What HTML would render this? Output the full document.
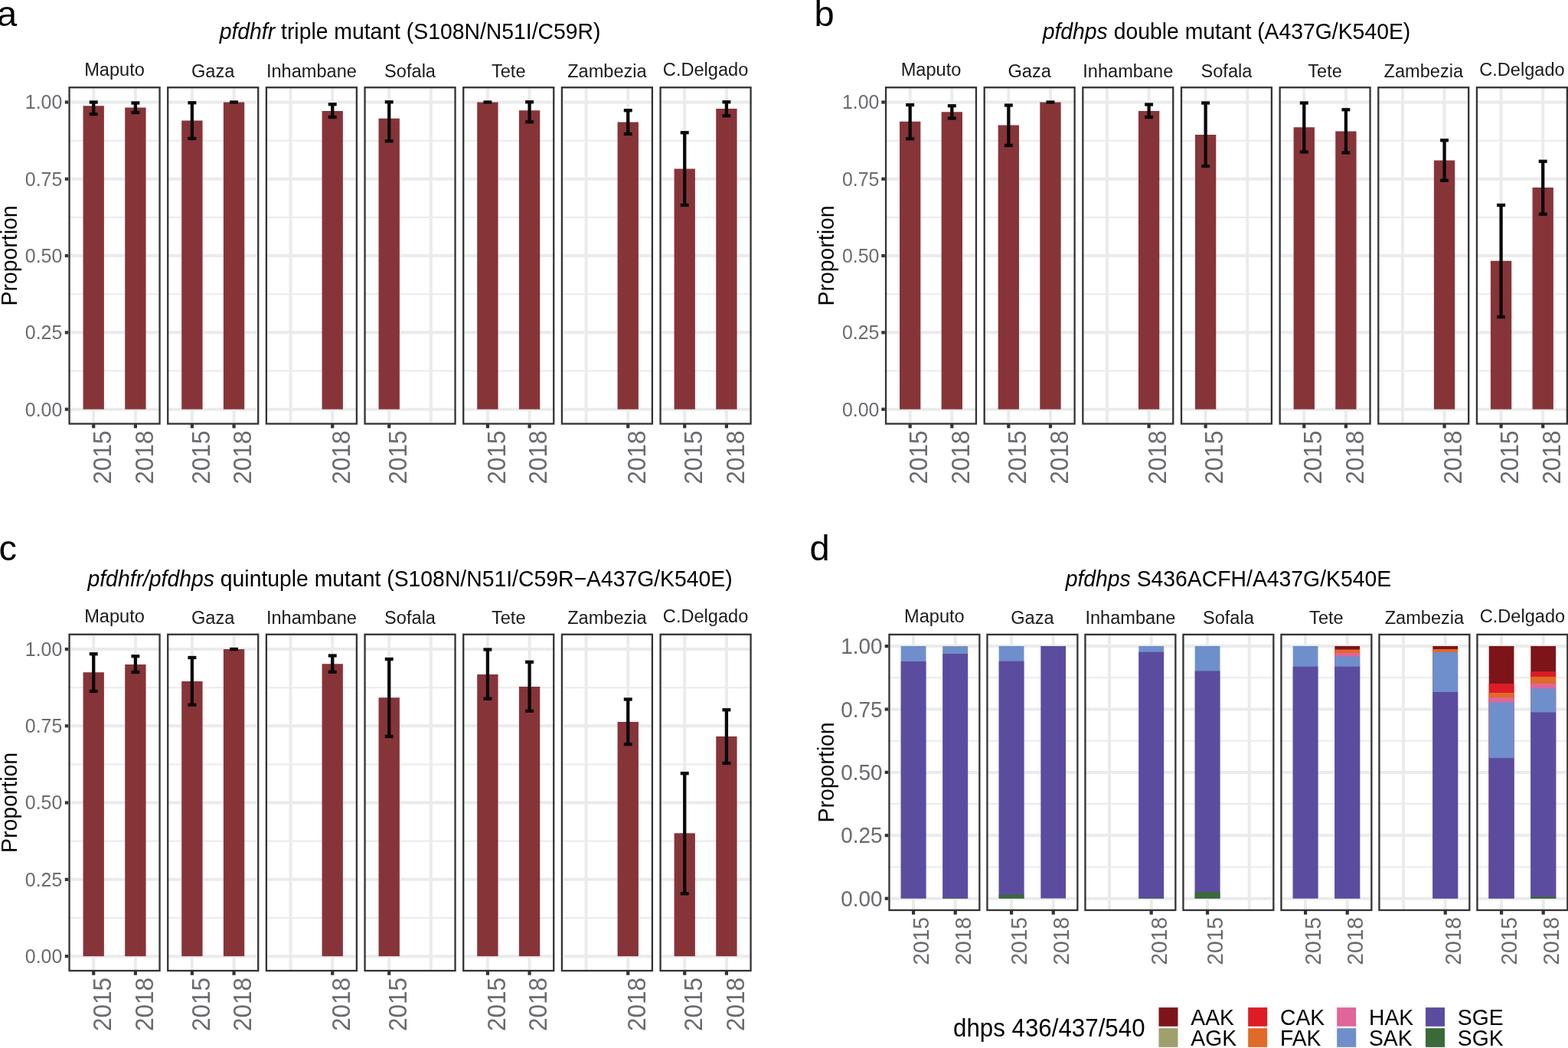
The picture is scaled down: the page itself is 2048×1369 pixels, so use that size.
<!DOCTYPE html>
<html lang="en">
<head>
<meta charset="utf-8">
<title>pfdhfr / pfdhps mutant proportions by province</title>
<style>
html, body { margin: 0; padding: 0; background: #ffffff; }
body { width: 2048px; height: 1369px; overflow: hidden; }
svg { display: block; font-family: "Liberation Sans", sans-serif; }
svg text { font-family: "Liberation Sans", sans-serif; }
</style>
</head>
<body>
<svg width="2048" height="1369" viewBox="0 0 2048 1369">
<rect x="0" y="0" width="2048" height="1369" fill="#ffffff"/>
<g class="panel" id="panel-a">
<text transform="translate(-3.9 34)" font-size="47" fill="#000" text-anchor="start">a</text>
<text transform="translate(535.56 51.3) scale(1 1.035)" font-size="28.35" fill="#000" text-anchor="middle"><tspan font-style="italic">pfdhfr</tspan> triple mutant (S108N/N51I/C59R)</text>
<text transform="translate(22.4 333.9) rotate(-90) scale(1 1.035)" font-size="28.4" fill="#000" text-anchor="middle">Proportion</text>
<text transform="translate(81.3 543.55) scale(1 1.035)" font-size="24.9" fill="#696b6f" text-anchor="end">0.00</text>
<line x1="84.8" y1="534.65" x2="89.9" y2="534.65" stroke="#333333" stroke-width="4.2"/>
<text transform="translate(81.3 443.26) scale(1 1.035)" font-size="24.9" fill="#696b6f" text-anchor="end">0.25</text>
<line x1="84.8" y1="434.36" x2="89.9" y2="434.36" stroke="#333333" stroke-width="4.2"/>
<text transform="translate(81.3 342.97) scale(1 1.035)" font-size="24.9" fill="#696b6f" text-anchor="end">0.50</text>
<line x1="84.8" y1="334.07" x2="89.9" y2="334.07" stroke="#333333" stroke-width="4.2"/>
<text transform="translate(81.3 242.69) scale(1 1.035)" font-size="24.9" fill="#696b6f" text-anchor="end">0.75</text>
<line x1="84.8" y1="233.79" x2="89.9" y2="233.79" stroke="#333333" stroke-width="4.2"/>
<text transform="translate(81.3 142.4) scale(1 1.035)" font-size="24.9" fill="#696b6f" text-anchor="end">1.00</text>
<line x1="84.8" y1="133.5" x2="89.9" y2="133.5" stroke="#333333" stroke-width="4.2"/>
<g class="facet">
<text transform="translate(149.55 98.75) scale(1 1.035)" font-size="23.6" fill="#1a1a1a" text-anchor="middle">Maputo</text>
<rect x="89.4" y="113.1" width="120.3" height="441.6" fill="#ffffff"/>
<line x1="89.4" y1="484.51" x2="209.7" y2="484.51" stroke="#eaebeb" stroke-width="2"/>
<line x1="89.4" y1="384.22" x2="209.7" y2="384.22" stroke="#eaebeb" stroke-width="2"/>
<line x1="89.4" y1="283.93" x2="209.7" y2="283.93" stroke="#eaebeb" stroke-width="2"/>
<line x1="89.4" y1="183.64" x2="209.7" y2="183.64" stroke="#eaebeb" stroke-width="2"/>
<line x1="89.4" y1="534.65" x2="209.7" y2="534.65" stroke="#eaebeb" stroke-width="4"/>
<line x1="89.4" y1="434.36" x2="209.7" y2="434.36" stroke="#eaebeb" stroke-width="4"/>
<line x1="89.4" y1="334.07" x2="209.7" y2="334.07" stroke="#eaebeb" stroke-width="4"/>
<line x1="89.4" y1="233.79" x2="209.7" y2="233.79" stroke="#eaebeb" stroke-width="4"/>
<line x1="89.4" y1="133.5" x2="209.7" y2="133.5" stroke="#eaebeb" stroke-width="4"/>
<line x1="122.21" y1="113.1" x2="122.21" y2="554.7" stroke="#eaebeb" stroke-width="4"/>
<line x1="176.89" y1="113.1" x2="176.89" y2="554.7" stroke="#eaebeb" stroke-width="4"/>
<rect x="108.54" y="138.25" width="27.34" height="396.4" fill="#873439"/>
<line x1="122.21" y1="133.5" x2="122.21" y2="149.1" stroke="#0a0a0a" stroke-width="4.3"/>
<line x1="116.74" y1="149.1" x2="127.68" y2="149.1" stroke="#0a0a0a" stroke-width="4.3"/>
<line x1="116.74" y1="133.5" x2="127.68" y2="133.5" stroke="#0a0a0a" stroke-width="4.3"/>
<rect x="163.22" y="140.5" width="27.34" height="394.15" fill="#873439"/>
<line x1="176.89" y1="134.5" x2="176.89" y2="147" stroke="#0a0a0a" stroke-width="4.3"/>
<line x1="171.42" y1="147" x2="182.36" y2="147" stroke="#0a0a0a" stroke-width="4.3"/>
<line x1="171.42" y1="134.5" x2="182.36" y2="134.5" stroke="#0a0a0a" stroke-width="4.3"/>
<rect x="90.55" y="114.25" width="118" height="439.3" fill="none" stroke="#333333" stroke-width="2.3"/>
<line x1="122.21" y1="554.2" x2="122.21" y2="559.3" stroke="#333333" stroke-width="4.2"/>
<text transform="translate(144.96 562.5) rotate(-90) scale(1 1.035)" font-size="31.5" fill="#696b6f" text-anchor="end">2015</text>
<line x1="176.89" y1="554.2" x2="176.89" y2="559.3" stroke="#333333" stroke-width="4.2"/>
<text transform="translate(199.64 562.5) rotate(-90) scale(1 1.035)" font-size="31.5" fill="#696b6f" text-anchor="end">2018</text>
</g>
<g class="facet">
<text transform="translate(278.22 100.75) scale(1 1.035)" font-size="23.6" fill="#1a1a1a" text-anchor="middle">Gaza</text>
<rect x="218.07" y="113.1" width="120.3" height="441.6" fill="#ffffff"/>
<line x1="218.07" y1="484.51" x2="338.37" y2="484.51" stroke="#eaebeb" stroke-width="2"/>
<line x1="218.07" y1="384.22" x2="338.37" y2="384.22" stroke="#eaebeb" stroke-width="2"/>
<line x1="218.07" y1="283.93" x2="338.37" y2="283.93" stroke="#eaebeb" stroke-width="2"/>
<line x1="218.07" y1="183.64" x2="338.37" y2="183.64" stroke="#eaebeb" stroke-width="2"/>
<line x1="218.07" y1="534.65" x2="338.37" y2="534.65" stroke="#eaebeb" stroke-width="4"/>
<line x1="218.07" y1="434.36" x2="338.37" y2="434.36" stroke="#eaebeb" stroke-width="4"/>
<line x1="218.07" y1="334.07" x2="338.37" y2="334.07" stroke="#eaebeb" stroke-width="4"/>
<line x1="218.07" y1="233.79" x2="338.37" y2="233.79" stroke="#eaebeb" stroke-width="4"/>
<line x1="218.07" y1="133.5" x2="338.37" y2="133.5" stroke="#eaebeb" stroke-width="4"/>
<line x1="250.88" y1="113.1" x2="250.88" y2="554.7" stroke="#eaebeb" stroke-width="4"/>
<line x1="305.56" y1="113.1" x2="305.56" y2="554.7" stroke="#eaebeb" stroke-width="4"/>
<rect x="237.21" y="157.5" width="27.34" height="377.15" fill="#873439"/>
<line x1="250.88" y1="134.25" x2="250.88" y2="181" stroke="#0a0a0a" stroke-width="4.3"/>
<line x1="245.41" y1="181" x2="256.35" y2="181" stroke="#0a0a0a" stroke-width="4.3"/>
<line x1="245.41" y1="134.25" x2="256.35" y2="134.25" stroke="#0a0a0a" stroke-width="4.3"/>
<rect x="291.89" y="133.5" width="27.34" height="401.15" fill="#873439"/>
<line x1="300.09" y1="133.5" x2="311.03" y2="133.5" stroke="#0a0a0a" stroke-width="4.3"/>
<rect x="219.22" y="114.25" width="118" height="439.3" fill="none" stroke="#333333" stroke-width="2.3"/>
<line x1="250.88" y1="554.2" x2="250.88" y2="559.3" stroke="#333333" stroke-width="4.2"/>
<text transform="translate(273.63 562.5) rotate(-90) scale(1 1.035)" font-size="31.5" fill="#696b6f" text-anchor="end">2015</text>
<line x1="305.56" y1="554.2" x2="305.56" y2="559.3" stroke="#333333" stroke-width="4.2"/>
<text transform="translate(328.31 562.5) rotate(-90) scale(1 1.035)" font-size="31.5" fill="#696b6f" text-anchor="end">2018</text>
</g>
<g class="facet">
<text transform="translate(406.89 100.75) scale(1 1.035)" font-size="23.6" fill="#1a1a1a" text-anchor="middle">Inhambane</text>
<rect x="346.74" y="113.1" width="120.3" height="441.6" fill="#ffffff"/>
<line x1="346.74" y1="484.51" x2="467.04" y2="484.51" stroke="#eaebeb" stroke-width="2"/>
<line x1="346.74" y1="384.22" x2="467.04" y2="384.22" stroke="#eaebeb" stroke-width="2"/>
<line x1="346.74" y1="283.93" x2="467.04" y2="283.93" stroke="#eaebeb" stroke-width="2"/>
<line x1="346.74" y1="183.64" x2="467.04" y2="183.64" stroke="#eaebeb" stroke-width="2"/>
<line x1="346.74" y1="534.65" x2="467.04" y2="534.65" stroke="#eaebeb" stroke-width="4"/>
<line x1="346.74" y1="434.36" x2="467.04" y2="434.36" stroke="#eaebeb" stroke-width="4"/>
<line x1="346.74" y1="334.07" x2="467.04" y2="334.07" stroke="#eaebeb" stroke-width="4"/>
<line x1="346.74" y1="233.79" x2="467.04" y2="233.79" stroke="#eaebeb" stroke-width="4"/>
<line x1="346.74" y1="133.5" x2="467.04" y2="133.5" stroke="#eaebeb" stroke-width="4"/>
<line x1="379.55" y1="113.1" x2="379.55" y2="554.7" stroke="#eaebeb" stroke-width="4"/>
<line x1="434.23" y1="113.1" x2="434.23" y2="554.7" stroke="#eaebeb" stroke-width="4"/>
<rect x="420.56" y="145" width="27.34" height="389.65" fill="#873439"/>
<line x1="434.23" y1="136.25" x2="434.23" y2="153" stroke="#0a0a0a" stroke-width="4.3"/>
<line x1="428.76" y1="153" x2="439.7" y2="153" stroke="#0a0a0a" stroke-width="4.3"/>
<line x1="428.76" y1="136.25" x2="439.7" y2="136.25" stroke="#0a0a0a" stroke-width="4.3"/>
<rect x="347.89" y="114.25" width="118" height="439.3" fill="none" stroke="#333333" stroke-width="2.3"/>
<line x1="434.23" y1="554.2" x2="434.23" y2="559.3" stroke="#333333" stroke-width="4.2"/>
<text transform="translate(456.98 562.5) rotate(-90) scale(1 1.035)" font-size="31.5" fill="#696b6f" text-anchor="end">2018</text>
</g>
<g class="facet">
<text transform="translate(535.56 100.75) scale(1 1.035)" font-size="23.6" fill="#1a1a1a" text-anchor="middle">Sofala</text>
<rect x="475.41" y="113.1" width="120.3" height="441.6" fill="#ffffff"/>
<line x1="475.41" y1="484.51" x2="595.71" y2="484.51" stroke="#eaebeb" stroke-width="2"/>
<line x1="475.41" y1="384.22" x2="595.71" y2="384.22" stroke="#eaebeb" stroke-width="2"/>
<line x1="475.41" y1="283.93" x2="595.71" y2="283.93" stroke="#eaebeb" stroke-width="2"/>
<line x1="475.41" y1="183.64" x2="595.71" y2="183.64" stroke="#eaebeb" stroke-width="2"/>
<line x1="475.41" y1="534.65" x2="595.71" y2="534.65" stroke="#eaebeb" stroke-width="4"/>
<line x1="475.41" y1="434.36" x2="595.71" y2="434.36" stroke="#eaebeb" stroke-width="4"/>
<line x1="475.41" y1="334.07" x2="595.71" y2="334.07" stroke="#eaebeb" stroke-width="4"/>
<line x1="475.41" y1="233.79" x2="595.71" y2="233.79" stroke="#eaebeb" stroke-width="4"/>
<line x1="475.41" y1="133.5" x2="595.71" y2="133.5" stroke="#eaebeb" stroke-width="4"/>
<line x1="508.22" y1="113.1" x2="508.22" y2="554.7" stroke="#eaebeb" stroke-width="4"/>
<line x1="562.9" y1="113.1" x2="562.9" y2="554.7" stroke="#eaebeb" stroke-width="4"/>
<rect x="494.55" y="154.75" width="27.34" height="379.9" fill="#873439"/>
<line x1="508.22" y1="133.25" x2="508.22" y2="184.25" stroke="#0a0a0a" stroke-width="4.3"/>
<line x1="502.75" y1="184.25" x2="513.69" y2="184.25" stroke="#0a0a0a" stroke-width="4.3"/>
<line x1="502.75" y1="133.25" x2="513.69" y2="133.25" stroke="#0a0a0a" stroke-width="4.3"/>
<rect x="476.56" y="114.25" width="118" height="439.3" fill="none" stroke="#333333" stroke-width="2.3"/>
<line x1="508.22" y1="554.2" x2="508.22" y2="559.3" stroke="#333333" stroke-width="4.2"/>
<text transform="translate(530.97 562.5) rotate(-90) scale(1 1.035)" font-size="31.5" fill="#696b6f" text-anchor="end">2015</text>
</g>
<g class="facet">
<text transform="translate(664.23 100.75) scale(1 1.035)" font-size="23.6" fill="#1a1a1a" text-anchor="middle">Tete</text>
<rect x="604.08" y="113.1" width="120.3" height="441.6" fill="#ffffff"/>
<line x1="604.08" y1="484.51" x2="724.38" y2="484.51" stroke="#eaebeb" stroke-width="2"/>
<line x1="604.08" y1="384.22" x2="724.38" y2="384.22" stroke="#eaebeb" stroke-width="2"/>
<line x1="604.08" y1="283.93" x2="724.38" y2="283.93" stroke="#eaebeb" stroke-width="2"/>
<line x1="604.08" y1="183.64" x2="724.38" y2="183.64" stroke="#eaebeb" stroke-width="2"/>
<line x1="604.08" y1="534.65" x2="724.38" y2="534.65" stroke="#eaebeb" stroke-width="4"/>
<line x1="604.08" y1="434.36" x2="724.38" y2="434.36" stroke="#eaebeb" stroke-width="4"/>
<line x1="604.08" y1="334.07" x2="724.38" y2="334.07" stroke="#eaebeb" stroke-width="4"/>
<line x1="604.08" y1="233.79" x2="724.38" y2="233.79" stroke="#eaebeb" stroke-width="4"/>
<line x1="604.08" y1="133.5" x2="724.38" y2="133.5" stroke="#eaebeb" stroke-width="4"/>
<line x1="636.89" y1="113.1" x2="636.89" y2="554.7" stroke="#eaebeb" stroke-width="4"/>
<line x1="691.57" y1="113.1" x2="691.57" y2="554.7" stroke="#eaebeb" stroke-width="4"/>
<rect x="623.22" y="133.5" width="27.34" height="401.15" fill="#873439"/>
<line x1="631.42" y1="133.5" x2="642.36" y2="133.5" stroke="#0a0a0a" stroke-width="4.3"/>
<rect x="677.9" y="144.25" width="27.34" height="390.4" fill="#873439"/>
<line x1="691.57" y1="133.25" x2="691.57" y2="159.25" stroke="#0a0a0a" stroke-width="4.3"/>
<line x1="686.1" y1="159.25" x2="697.04" y2="159.25" stroke="#0a0a0a" stroke-width="4.3"/>
<line x1="686.1" y1="133.25" x2="697.04" y2="133.25" stroke="#0a0a0a" stroke-width="4.3"/>
<rect x="605.23" y="114.25" width="118" height="439.3" fill="none" stroke="#333333" stroke-width="2.3"/>
<line x1="636.89" y1="554.2" x2="636.89" y2="559.3" stroke="#333333" stroke-width="4.2"/>
<text transform="translate(659.64 562.5) rotate(-90) scale(1 1.035)" font-size="31.5" fill="#696b6f" text-anchor="end">2015</text>
<line x1="691.57" y1="554.2" x2="691.57" y2="559.3" stroke="#333333" stroke-width="4.2"/>
<text transform="translate(714.32 562.5) rotate(-90) scale(1 1.035)" font-size="31.5" fill="#696b6f" text-anchor="end">2018</text>
</g>
<g class="facet">
<text transform="translate(792.9 100.75) scale(1 1.035)" font-size="23.6" fill="#1a1a1a" text-anchor="middle">Zambezia</text>
<rect x="732.75" y="113.1" width="120.3" height="441.6" fill="#ffffff"/>
<line x1="732.75" y1="484.51" x2="853.05" y2="484.51" stroke="#eaebeb" stroke-width="2"/>
<line x1="732.75" y1="384.22" x2="853.05" y2="384.22" stroke="#eaebeb" stroke-width="2"/>
<line x1="732.75" y1="283.93" x2="853.05" y2="283.93" stroke="#eaebeb" stroke-width="2"/>
<line x1="732.75" y1="183.64" x2="853.05" y2="183.64" stroke="#eaebeb" stroke-width="2"/>
<line x1="732.75" y1="534.65" x2="853.05" y2="534.65" stroke="#eaebeb" stroke-width="4"/>
<line x1="732.75" y1="434.36" x2="853.05" y2="434.36" stroke="#eaebeb" stroke-width="4"/>
<line x1="732.75" y1="334.07" x2="853.05" y2="334.07" stroke="#eaebeb" stroke-width="4"/>
<line x1="732.75" y1="233.79" x2="853.05" y2="233.79" stroke="#eaebeb" stroke-width="4"/>
<line x1="732.75" y1="133.5" x2="853.05" y2="133.5" stroke="#eaebeb" stroke-width="4"/>
<line x1="765.56" y1="113.1" x2="765.56" y2="554.7" stroke="#eaebeb" stroke-width="4"/>
<line x1="820.24" y1="113.1" x2="820.24" y2="554.7" stroke="#eaebeb" stroke-width="4"/>
<rect x="806.57" y="159.5" width="27.34" height="375.15" fill="#873439"/>
<line x1="820.24" y1="144.25" x2="820.24" y2="175" stroke="#0a0a0a" stroke-width="4.3"/>
<line x1="814.77" y1="175" x2="825.71" y2="175" stroke="#0a0a0a" stroke-width="4.3"/>
<line x1="814.77" y1="144.25" x2="825.71" y2="144.25" stroke="#0a0a0a" stroke-width="4.3"/>
<rect x="733.9" y="114.25" width="118" height="439.3" fill="none" stroke="#333333" stroke-width="2.3"/>
<line x1="820.24" y1="554.2" x2="820.24" y2="559.3" stroke="#333333" stroke-width="4.2"/>
<text transform="translate(842.99 562.5) rotate(-90) scale(1 1.035)" font-size="31.5" fill="#696b6f" text-anchor="end">2018</text>
</g>
<g class="facet">
<text transform="translate(921.57 98.75) scale(1 1.035)" font-size="23.6" fill="#1a1a1a" text-anchor="middle">C.Delgado</text>
<rect x="861.42" y="113.1" width="120.3" height="441.6" fill="#ffffff"/>
<line x1="861.42" y1="484.51" x2="981.72" y2="484.51" stroke="#eaebeb" stroke-width="2"/>
<line x1="861.42" y1="384.22" x2="981.72" y2="384.22" stroke="#eaebeb" stroke-width="2"/>
<line x1="861.42" y1="283.93" x2="981.72" y2="283.93" stroke="#eaebeb" stroke-width="2"/>
<line x1="861.42" y1="183.64" x2="981.72" y2="183.64" stroke="#eaebeb" stroke-width="2"/>
<line x1="861.42" y1="534.65" x2="981.72" y2="534.65" stroke="#eaebeb" stroke-width="4"/>
<line x1="861.42" y1="434.36" x2="981.72" y2="434.36" stroke="#eaebeb" stroke-width="4"/>
<line x1="861.42" y1="334.07" x2="981.72" y2="334.07" stroke="#eaebeb" stroke-width="4"/>
<line x1="861.42" y1="233.79" x2="981.72" y2="233.79" stroke="#eaebeb" stroke-width="4"/>
<line x1="861.42" y1="133.5" x2="981.72" y2="133.5" stroke="#eaebeb" stroke-width="4"/>
<line x1="894.23" y1="113.1" x2="894.23" y2="554.7" stroke="#eaebeb" stroke-width="4"/>
<line x1="948.91" y1="113.1" x2="948.91" y2="554.7" stroke="#eaebeb" stroke-width="4"/>
<rect x="880.56" y="220.5" width="27.34" height="314.15" fill="#873439"/>
<line x1="894.23" y1="173.25" x2="894.23" y2="268" stroke="#0a0a0a" stroke-width="4.3"/>
<line x1="888.76" y1="268" x2="899.7" y2="268" stroke="#0a0a0a" stroke-width="4.3"/>
<line x1="888.76" y1="173.25" x2="899.7" y2="173.25" stroke="#0a0a0a" stroke-width="4.3"/>
<rect x="935.24" y="142" width="27.34" height="392.65" fill="#873439"/>
<line x1="948.91" y1="133.25" x2="948.91" y2="151.25" stroke="#0a0a0a" stroke-width="4.3"/>
<line x1="943.44" y1="151.25" x2="954.38" y2="151.25" stroke="#0a0a0a" stroke-width="4.3"/>
<line x1="943.44" y1="133.25" x2="954.38" y2="133.25" stroke="#0a0a0a" stroke-width="4.3"/>
<rect x="862.57" y="114.25" width="118" height="439.3" fill="none" stroke="#333333" stroke-width="2.3"/>
<line x1="894.23" y1="554.2" x2="894.23" y2="559.3" stroke="#333333" stroke-width="4.2"/>
<text transform="translate(916.98 562.5) rotate(-90) scale(1 1.035)" font-size="31.5" fill="#696b6f" text-anchor="end">2015</text>
<line x1="948.91" y1="554.2" x2="948.91" y2="559.3" stroke="#333333" stroke-width="4.2"/>
<text transform="translate(971.66 562.5) rotate(-90) scale(1 1.035)" font-size="31.5" fill="#696b6f" text-anchor="end">2018</text>
</g>
</g>
<g class="panel" id="panel-b">
<text transform="translate(1063.4 34)" font-size="47" fill="#000" text-anchor="start">b</text>
<text transform="translate(1601.95 51.3) scale(1 1.035)" font-size="28.35" fill="#000" text-anchor="middle"><tspan font-style="italic">pfdhps</tspan> double mutant (A437G/K540E)</text>
<text transform="translate(1089.1 333.9) rotate(-90) scale(1 1.035)" font-size="28.4" fill="#000" text-anchor="middle">Proportion</text>
<text transform="translate(1148.4 543.55) scale(1 1.035)" font-size="24.9" fill="#696b6f" text-anchor="end">0.00</text>
<line x1="1151.3" y1="534.65" x2="1156.4" y2="534.65" stroke="#333333" stroke-width="4.2"/>
<text transform="translate(1148.4 443.26) scale(1 1.035)" font-size="24.9" fill="#696b6f" text-anchor="end">0.25</text>
<line x1="1151.3" y1="434.36" x2="1156.4" y2="434.36" stroke="#333333" stroke-width="4.2"/>
<text transform="translate(1148.4 342.97) scale(1 1.035)" font-size="24.9" fill="#696b6f" text-anchor="end">0.50</text>
<line x1="1151.3" y1="334.07" x2="1156.4" y2="334.07" stroke="#333333" stroke-width="4.2"/>
<text transform="translate(1148.4 242.69) scale(1 1.035)" font-size="24.9" fill="#696b6f" text-anchor="end">0.75</text>
<line x1="1151.3" y1="233.79" x2="1156.4" y2="233.79" stroke="#333333" stroke-width="4.2"/>
<text transform="translate(1148.4 142.4) scale(1 1.035)" font-size="24.9" fill="#696b6f" text-anchor="end">1.00</text>
<line x1="1151.3" y1="133.5" x2="1156.4" y2="133.5" stroke="#333333" stroke-width="4.2"/>
<g class="facet">
<text transform="translate(1216 98.75) scale(1 1.035)" font-size="23.6" fill="#1a1a1a" text-anchor="middle">Maputo</text>
<rect x="1155.9" y="113.1" width="120.2" height="441.6" fill="#ffffff"/>
<line x1="1155.9" y1="484.51" x2="1276.1" y2="484.51" stroke="#eaebeb" stroke-width="2"/>
<line x1="1155.9" y1="384.22" x2="1276.1" y2="384.22" stroke="#eaebeb" stroke-width="2"/>
<line x1="1155.9" y1="283.93" x2="1276.1" y2="283.93" stroke="#eaebeb" stroke-width="2"/>
<line x1="1155.9" y1="183.64" x2="1276.1" y2="183.64" stroke="#eaebeb" stroke-width="2"/>
<line x1="1155.9" y1="534.65" x2="1276.1" y2="534.65" stroke="#eaebeb" stroke-width="4"/>
<line x1="1155.9" y1="434.36" x2="1276.1" y2="434.36" stroke="#eaebeb" stroke-width="4"/>
<line x1="1155.9" y1="334.07" x2="1276.1" y2="334.07" stroke="#eaebeb" stroke-width="4"/>
<line x1="1155.9" y1="233.79" x2="1276.1" y2="233.79" stroke="#eaebeb" stroke-width="4"/>
<line x1="1155.9" y1="133.5" x2="1276.1" y2="133.5" stroke="#eaebeb" stroke-width="4"/>
<line x1="1188.68" y1="113.1" x2="1188.68" y2="554.7" stroke="#eaebeb" stroke-width="4"/>
<line x1="1243.32" y1="113.1" x2="1243.32" y2="554.7" stroke="#eaebeb" stroke-width="4"/>
<rect x="1175.02" y="158.75" width="27.32" height="375.9" fill="#873439"/>
<line x1="1188.68" y1="137" x2="1188.68" y2="181.25" stroke="#0a0a0a" stroke-width="4.3"/>
<line x1="1183.22" y1="181.25" x2="1194.15" y2="181.25" stroke="#0a0a0a" stroke-width="4.3"/>
<line x1="1183.22" y1="137" x2="1194.15" y2="137" stroke="#0a0a0a" stroke-width="4.3"/>
<rect x="1229.66" y="146.25" width="27.32" height="388.4" fill="#873439"/>
<line x1="1243.32" y1="138.25" x2="1243.32" y2="154.5" stroke="#0a0a0a" stroke-width="4.3"/>
<line x1="1237.85" y1="154.5" x2="1248.78" y2="154.5" stroke="#0a0a0a" stroke-width="4.3"/>
<line x1="1237.85" y1="138.25" x2="1248.78" y2="138.25" stroke="#0a0a0a" stroke-width="4.3"/>
<rect x="1157.05" y="114.25" width="117.9" height="439.3" fill="none" stroke="#333333" stroke-width="2.3"/>
<line x1="1188.68" y1="554.2" x2="1188.68" y2="559.3" stroke="#333333" stroke-width="4.2"/>
<text transform="translate(1211.43 562.5) rotate(-90) scale(1 1.035)" font-size="31.5" fill="#696b6f" text-anchor="end">2015</text>
<line x1="1243.32" y1="554.2" x2="1243.32" y2="559.3" stroke="#333333" stroke-width="4.2"/>
<text transform="translate(1266.07 562.5) rotate(-90) scale(1 1.035)" font-size="31.5" fill="#696b6f" text-anchor="end">2018</text>
</g>
<g class="facet">
<text transform="translate(1344.65 100.75) scale(1 1.035)" font-size="23.6" fill="#1a1a1a" text-anchor="middle">Gaza</text>
<rect x="1284.55" y="113.1" width="120.2" height="441.6" fill="#ffffff"/>
<line x1="1284.55" y1="484.51" x2="1404.75" y2="484.51" stroke="#eaebeb" stroke-width="2"/>
<line x1="1284.55" y1="384.22" x2="1404.75" y2="384.22" stroke="#eaebeb" stroke-width="2"/>
<line x1="1284.55" y1="283.93" x2="1404.75" y2="283.93" stroke="#eaebeb" stroke-width="2"/>
<line x1="1284.55" y1="183.64" x2="1404.75" y2="183.64" stroke="#eaebeb" stroke-width="2"/>
<line x1="1284.55" y1="534.65" x2="1404.75" y2="534.65" stroke="#eaebeb" stroke-width="4"/>
<line x1="1284.55" y1="434.36" x2="1404.75" y2="434.36" stroke="#eaebeb" stroke-width="4"/>
<line x1="1284.55" y1="334.07" x2="1404.75" y2="334.07" stroke="#eaebeb" stroke-width="4"/>
<line x1="1284.55" y1="233.79" x2="1404.75" y2="233.79" stroke="#eaebeb" stroke-width="4"/>
<line x1="1284.55" y1="133.5" x2="1404.75" y2="133.5" stroke="#eaebeb" stroke-width="4"/>
<line x1="1317.33" y1="113.1" x2="1317.33" y2="554.7" stroke="#eaebeb" stroke-width="4"/>
<line x1="1371.97" y1="113.1" x2="1371.97" y2="554.7" stroke="#eaebeb" stroke-width="4"/>
<rect x="1303.67" y="163.5" width="27.32" height="371.15" fill="#873439"/>
<line x1="1317.33" y1="137.5" x2="1317.33" y2="190" stroke="#0a0a0a" stroke-width="4.3"/>
<line x1="1311.87" y1="190" x2="1322.8" y2="190" stroke="#0a0a0a" stroke-width="4.3"/>
<line x1="1311.87" y1="137.5" x2="1322.8" y2="137.5" stroke="#0a0a0a" stroke-width="4.3"/>
<rect x="1358.31" y="133.5" width="27.32" height="401.15" fill="#873439"/>
<line x1="1366.5" y1="133.5" x2="1377.43" y2="133.5" stroke="#0a0a0a" stroke-width="4.3"/>
<rect x="1285.7" y="114.25" width="117.9" height="439.3" fill="none" stroke="#333333" stroke-width="2.3"/>
<line x1="1317.33" y1="554.2" x2="1317.33" y2="559.3" stroke="#333333" stroke-width="4.2"/>
<text transform="translate(1340.08 562.5) rotate(-90) scale(1 1.035)" font-size="31.5" fill="#696b6f" text-anchor="end">2015</text>
<line x1="1371.97" y1="554.2" x2="1371.97" y2="559.3" stroke="#333333" stroke-width="4.2"/>
<text transform="translate(1394.72 562.5) rotate(-90) scale(1 1.035)" font-size="31.5" fill="#696b6f" text-anchor="end">2018</text>
</g>
<g class="facet">
<text transform="translate(1473.3 100.75) scale(1 1.035)" font-size="23.6" fill="#1a1a1a" text-anchor="middle">Inhambane</text>
<rect x="1413.2" y="113.1" width="120.2" height="441.6" fill="#ffffff"/>
<line x1="1413.2" y1="484.51" x2="1533.4" y2="484.51" stroke="#eaebeb" stroke-width="2"/>
<line x1="1413.2" y1="384.22" x2="1533.4" y2="384.22" stroke="#eaebeb" stroke-width="2"/>
<line x1="1413.2" y1="283.93" x2="1533.4" y2="283.93" stroke="#eaebeb" stroke-width="2"/>
<line x1="1413.2" y1="183.64" x2="1533.4" y2="183.64" stroke="#eaebeb" stroke-width="2"/>
<line x1="1413.2" y1="534.65" x2="1533.4" y2="534.65" stroke="#eaebeb" stroke-width="4"/>
<line x1="1413.2" y1="434.36" x2="1533.4" y2="434.36" stroke="#eaebeb" stroke-width="4"/>
<line x1="1413.2" y1="334.07" x2="1533.4" y2="334.07" stroke="#eaebeb" stroke-width="4"/>
<line x1="1413.2" y1="233.79" x2="1533.4" y2="233.79" stroke="#eaebeb" stroke-width="4"/>
<line x1="1413.2" y1="133.5" x2="1533.4" y2="133.5" stroke="#eaebeb" stroke-width="4"/>
<line x1="1445.98" y1="113.1" x2="1445.98" y2="554.7" stroke="#eaebeb" stroke-width="4"/>
<line x1="1500.62" y1="113.1" x2="1500.62" y2="554.7" stroke="#eaebeb" stroke-width="4"/>
<rect x="1486.96" y="145" width="27.32" height="389.65" fill="#873439"/>
<line x1="1500.62" y1="136.5" x2="1500.62" y2="153" stroke="#0a0a0a" stroke-width="4.3"/>
<line x1="1495.15" y1="153" x2="1506.08" y2="153" stroke="#0a0a0a" stroke-width="4.3"/>
<line x1="1495.15" y1="136.5" x2="1506.08" y2="136.5" stroke="#0a0a0a" stroke-width="4.3"/>
<rect x="1414.35" y="114.25" width="117.9" height="439.3" fill="none" stroke="#333333" stroke-width="2.3"/>
<line x1="1500.62" y1="554.2" x2="1500.62" y2="559.3" stroke="#333333" stroke-width="4.2"/>
<text transform="translate(1523.37 562.5) rotate(-90) scale(1 1.035)" font-size="31.5" fill="#696b6f" text-anchor="end">2018</text>
</g>
<g class="facet">
<text transform="translate(1601.95 100.75) scale(1 1.035)" font-size="23.6" fill="#1a1a1a" text-anchor="middle">Sofala</text>
<rect x="1541.85" y="113.1" width="120.2" height="441.6" fill="#ffffff"/>
<line x1="1541.85" y1="484.51" x2="1662.05" y2="484.51" stroke="#eaebeb" stroke-width="2"/>
<line x1="1541.85" y1="384.22" x2="1662.05" y2="384.22" stroke="#eaebeb" stroke-width="2"/>
<line x1="1541.85" y1="283.93" x2="1662.05" y2="283.93" stroke="#eaebeb" stroke-width="2"/>
<line x1="1541.85" y1="183.64" x2="1662.05" y2="183.64" stroke="#eaebeb" stroke-width="2"/>
<line x1="1541.85" y1="534.65" x2="1662.05" y2="534.65" stroke="#eaebeb" stroke-width="4"/>
<line x1="1541.85" y1="434.36" x2="1662.05" y2="434.36" stroke="#eaebeb" stroke-width="4"/>
<line x1="1541.85" y1="334.07" x2="1662.05" y2="334.07" stroke="#eaebeb" stroke-width="4"/>
<line x1="1541.85" y1="233.79" x2="1662.05" y2="233.79" stroke="#eaebeb" stroke-width="4"/>
<line x1="1541.85" y1="133.5" x2="1662.05" y2="133.5" stroke="#eaebeb" stroke-width="4"/>
<line x1="1574.63" y1="113.1" x2="1574.63" y2="554.7" stroke="#eaebeb" stroke-width="4"/>
<line x1="1629.27" y1="113.1" x2="1629.27" y2="554.7" stroke="#eaebeb" stroke-width="4"/>
<rect x="1560.97" y="176" width="27.32" height="358.65" fill="#873439"/>
<line x1="1574.63" y1="134.5" x2="1574.63" y2="217" stroke="#0a0a0a" stroke-width="4.3"/>
<line x1="1569.17" y1="217" x2="1580.1" y2="217" stroke="#0a0a0a" stroke-width="4.3"/>
<line x1="1569.17" y1="134.5" x2="1580.1" y2="134.5" stroke="#0a0a0a" stroke-width="4.3"/>
<rect x="1543" y="114.25" width="117.9" height="439.3" fill="none" stroke="#333333" stroke-width="2.3"/>
<line x1="1574.63" y1="554.2" x2="1574.63" y2="559.3" stroke="#333333" stroke-width="4.2"/>
<text transform="translate(1597.38 562.5) rotate(-90) scale(1 1.035)" font-size="31.5" fill="#696b6f" text-anchor="end">2015</text>
</g>
<g class="facet">
<text transform="translate(1730.6 100.75) scale(1 1.035)" font-size="23.6" fill="#1a1a1a" text-anchor="middle">Tete</text>
<rect x="1670.5" y="113.1" width="120.2" height="441.6" fill="#ffffff"/>
<line x1="1670.5" y1="484.51" x2="1790.7" y2="484.51" stroke="#eaebeb" stroke-width="2"/>
<line x1="1670.5" y1="384.22" x2="1790.7" y2="384.22" stroke="#eaebeb" stroke-width="2"/>
<line x1="1670.5" y1="283.93" x2="1790.7" y2="283.93" stroke="#eaebeb" stroke-width="2"/>
<line x1="1670.5" y1="183.64" x2="1790.7" y2="183.64" stroke="#eaebeb" stroke-width="2"/>
<line x1="1670.5" y1="534.65" x2="1790.7" y2="534.65" stroke="#eaebeb" stroke-width="4"/>
<line x1="1670.5" y1="434.36" x2="1790.7" y2="434.36" stroke="#eaebeb" stroke-width="4"/>
<line x1="1670.5" y1="334.07" x2="1790.7" y2="334.07" stroke="#eaebeb" stroke-width="4"/>
<line x1="1670.5" y1="233.79" x2="1790.7" y2="233.79" stroke="#eaebeb" stroke-width="4"/>
<line x1="1670.5" y1="133.5" x2="1790.7" y2="133.5" stroke="#eaebeb" stroke-width="4"/>
<line x1="1703.28" y1="113.1" x2="1703.28" y2="554.7" stroke="#eaebeb" stroke-width="4"/>
<line x1="1757.92" y1="113.1" x2="1757.92" y2="554.7" stroke="#eaebeb" stroke-width="4"/>
<rect x="1689.62" y="166.25" width="27.32" height="368.4" fill="#873439"/>
<line x1="1703.28" y1="134.5" x2="1703.28" y2="198.5" stroke="#0a0a0a" stroke-width="4.3"/>
<line x1="1697.82" y1="198.5" x2="1708.75" y2="198.5" stroke="#0a0a0a" stroke-width="4.3"/>
<line x1="1697.82" y1="134.5" x2="1708.75" y2="134.5" stroke="#0a0a0a" stroke-width="4.3"/>
<rect x="1744.26" y="171.5" width="27.32" height="363.15" fill="#873439"/>
<line x1="1757.92" y1="143.25" x2="1757.92" y2="199.5" stroke="#0a0a0a" stroke-width="4.3"/>
<line x1="1752.45" y1="199.5" x2="1763.38" y2="199.5" stroke="#0a0a0a" stroke-width="4.3"/>
<line x1="1752.45" y1="143.25" x2="1763.38" y2="143.25" stroke="#0a0a0a" stroke-width="4.3"/>
<rect x="1671.65" y="114.25" width="117.9" height="439.3" fill="none" stroke="#333333" stroke-width="2.3"/>
<line x1="1703.28" y1="554.2" x2="1703.28" y2="559.3" stroke="#333333" stroke-width="4.2"/>
<text transform="translate(1726.03 562.5) rotate(-90) scale(1 1.035)" font-size="31.5" fill="#696b6f" text-anchor="end">2015</text>
<line x1="1757.92" y1="554.2" x2="1757.92" y2="559.3" stroke="#333333" stroke-width="4.2"/>
<text transform="translate(1780.67 562.5) rotate(-90) scale(1 1.035)" font-size="31.5" fill="#696b6f" text-anchor="end">2018</text>
</g>
<g class="facet">
<text transform="translate(1859.25 100.75) scale(1 1.035)" font-size="23.6" fill="#1a1a1a" text-anchor="middle">Zambezia</text>
<rect x="1799.15" y="113.1" width="120.2" height="441.6" fill="#ffffff"/>
<line x1="1799.15" y1="484.51" x2="1919.35" y2="484.51" stroke="#eaebeb" stroke-width="2"/>
<line x1="1799.15" y1="384.22" x2="1919.35" y2="384.22" stroke="#eaebeb" stroke-width="2"/>
<line x1="1799.15" y1="283.93" x2="1919.35" y2="283.93" stroke="#eaebeb" stroke-width="2"/>
<line x1="1799.15" y1="183.64" x2="1919.35" y2="183.64" stroke="#eaebeb" stroke-width="2"/>
<line x1="1799.15" y1="534.65" x2="1919.35" y2="534.65" stroke="#eaebeb" stroke-width="4"/>
<line x1="1799.15" y1="434.36" x2="1919.35" y2="434.36" stroke="#eaebeb" stroke-width="4"/>
<line x1="1799.15" y1="334.07" x2="1919.35" y2="334.07" stroke="#eaebeb" stroke-width="4"/>
<line x1="1799.15" y1="233.79" x2="1919.35" y2="233.79" stroke="#eaebeb" stroke-width="4"/>
<line x1="1799.15" y1="133.5" x2="1919.35" y2="133.5" stroke="#eaebeb" stroke-width="4"/>
<line x1="1831.93" y1="113.1" x2="1831.93" y2="554.7" stroke="#eaebeb" stroke-width="4"/>
<line x1="1886.57" y1="113.1" x2="1886.57" y2="554.7" stroke="#eaebeb" stroke-width="4"/>
<rect x="1872.91" y="209.5" width="27.32" height="325.15" fill="#873439"/>
<line x1="1886.57" y1="183.25" x2="1886.57" y2="235.75" stroke="#0a0a0a" stroke-width="4.3"/>
<line x1="1881.1" y1="235.75" x2="1892.03" y2="235.75" stroke="#0a0a0a" stroke-width="4.3"/>
<line x1="1881.1" y1="183.25" x2="1892.03" y2="183.25" stroke="#0a0a0a" stroke-width="4.3"/>
<rect x="1800.3" y="114.25" width="117.9" height="439.3" fill="none" stroke="#333333" stroke-width="2.3"/>
<line x1="1886.57" y1="554.2" x2="1886.57" y2="559.3" stroke="#333333" stroke-width="4.2"/>
<text transform="translate(1909.32 562.5) rotate(-90) scale(1 1.035)" font-size="31.5" fill="#696b6f" text-anchor="end">2018</text>
</g>
<g class="facet">
<text transform="translate(1987.9 98.75) scale(1 1.035)" font-size="23.6" fill="#1a1a1a" text-anchor="middle">C.Delgado</text>
<rect x="1927.8" y="113.1" width="120.2" height="441.6" fill="#ffffff"/>
<line x1="1927.8" y1="484.51" x2="2048" y2="484.51" stroke="#eaebeb" stroke-width="2"/>
<line x1="1927.8" y1="384.22" x2="2048" y2="384.22" stroke="#eaebeb" stroke-width="2"/>
<line x1="1927.8" y1="283.93" x2="2048" y2="283.93" stroke="#eaebeb" stroke-width="2"/>
<line x1="1927.8" y1="183.64" x2="2048" y2="183.64" stroke="#eaebeb" stroke-width="2"/>
<line x1="1927.8" y1="534.65" x2="2048" y2="534.65" stroke="#eaebeb" stroke-width="4"/>
<line x1="1927.8" y1="434.36" x2="2048" y2="434.36" stroke="#eaebeb" stroke-width="4"/>
<line x1="1927.8" y1="334.07" x2="2048" y2="334.07" stroke="#eaebeb" stroke-width="4"/>
<line x1="1927.8" y1="233.79" x2="2048" y2="233.79" stroke="#eaebeb" stroke-width="4"/>
<line x1="1927.8" y1="133.5" x2="2048" y2="133.5" stroke="#eaebeb" stroke-width="4"/>
<line x1="1960.58" y1="113.1" x2="1960.58" y2="554.7" stroke="#eaebeb" stroke-width="4"/>
<line x1="2015.22" y1="113.1" x2="2015.22" y2="554.7" stroke="#eaebeb" stroke-width="4"/>
<rect x="1946.92" y="340.75" width="27.32" height="193.9" fill="#873439"/>
<line x1="1960.58" y1="268" x2="1960.58" y2="414" stroke="#0a0a0a" stroke-width="4.3"/>
<line x1="1955.12" y1="414" x2="1966.05" y2="414" stroke="#0a0a0a" stroke-width="4.3"/>
<line x1="1955.12" y1="268" x2="1966.05" y2="268" stroke="#0a0a0a" stroke-width="4.3"/>
<rect x="2001.56" y="245" width="27.32" height="289.65" fill="#873439"/>
<line x1="2015.22" y1="210.75" x2="2015.22" y2="279.75" stroke="#0a0a0a" stroke-width="4.3"/>
<line x1="2009.75" y1="279.75" x2="2020.68" y2="279.75" stroke="#0a0a0a" stroke-width="4.3"/>
<line x1="2009.75" y1="210.75" x2="2020.68" y2="210.75" stroke="#0a0a0a" stroke-width="4.3"/>
<rect x="1928.95" y="114.25" width="117.9" height="439.3" fill="none" stroke="#333333" stroke-width="2.3"/>
<line x1="1960.58" y1="554.2" x2="1960.58" y2="559.3" stroke="#333333" stroke-width="4.2"/>
<text transform="translate(1983.33 562.5) rotate(-90) scale(1 1.035)" font-size="31.5" fill="#696b6f" text-anchor="end">2015</text>
<line x1="2015.22" y1="554.2" x2="2015.22" y2="559.3" stroke="#333333" stroke-width="4.2"/>
<text transform="translate(2037.97 562.5) rotate(-90) scale(1 1.035)" font-size="31.5" fill="#696b6f" text-anchor="end">2018</text>
</g>
</g>
<g class="panel" id="panel-c">
<text transform="translate(-1.5 731.5)" font-size="47" fill="#000" text-anchor="start">c</text>
<text transform="translate(535.56 765.8) scale(1 1.035)" font-size="28.35" fill="#000" text-anchor="middle"><tspan font-style="italic">pfdhfr/pfdhps</tspan> quintuple mutant (S108N/N51I/C59R−A437G/K540E)</text>
<text transform="translate(22.4 1048.4) rotate(-90) scale(1 1.035)" font-size="28.4" fill="#000" text-anchor="middle">Proportion</text>
<text transform="translate(81.3 1258.05) scale(1 1.035)" font-size="24.9" fill="#696b6f" text-anchor="end">0.00</text>
<line x1="84.8" y1="1249.15" x2="89.9" y2="1249.15" stroke="#333333" stroke-width="4.2"/>
<text transform="translate(81.3 1157.76) scale(1 1.035)" font-size="24.9" fill="#696b6f" text-anchor="end">0.25</text>
<line x1="84.8" y1="1148.86" x2="89.9" y2="1148.86" stroke="#333333" stroke-width="4.2"/>
<text transform="translate(81.3 1057.48) scale(1 1.035)" font-size="24.9" fill="#696b6f" text-anchor="end">0.50</text>
<line x1="84.8" y1="1048.58" x2="89.9" y2="1048.58" stroke="#333333" stroke-width="4.2"/>
<text transform="translate(81.3 957.19) scale(1 1.035)" font-size="24.9" fill="#696b6f" text-anchor="end">0.75</text>
<line x1="84.8" y1="948.29" x2="89.9" y2="948.29" stroke="#333333" stroke-width="4.2"/>
<text transform="translate(81.3 856.9) scale(1 1.035)" font-size="24.9" fill="#696b6f" text-anchor="end">1.00</text>
<line x1="84.8" y1="848" x2="89.9" y2="848" stroke="#333333" stroke-width="4.2"/>
<g class="facet">
<text transform="translate(149.55 813.25) scale(1 1.035)" font-size="23.6" fill="#1a1a1a" text-anchor="middle">Maputo</text>
<rect x="89.4" y="827.6" width="120.3" height="441.6" fill="#ffffff"/>
<line x1="89.4" y1="1199.01" x2="209.7" y2="1199.01" stroke="#eaebeb" stroke-width="2"/>
<line x1="89.4" y1="1098.72" x2="209.7" y2="1098.72" stroke="#eaebeb" stroke-width="2"/>
<line x1="89.4" y1="998.43" x2="209.7" y2="998.43" stroke="#eaebeb" stroke-width="2"/>
<line x1="89.4" y1="898.14" x2="209.7" y2="898.14" stroke="#eaebeb" stroke-width="2"/>
<line x1="89.4" y1="1249.15" x2="209.7" y2="1249.15" stroke="#eaebeb" stroke-width="4"/>
<line x1="89.4" y1="1148.86" x2="209.7" y2="1148.86" stroke="#eaebeb" stroke-width="4"/>
<line x1="89.4" y1="1048.58" x2="209.7" y2="1048.58" stroke="#eaebeb" stroke-width="4"/>
<line x1="89.4" y1="948.29" x2="209.7" y2="948.29" stroke="#eaebeb" stroke-width="4"/>
<line x1="89.4" y1="848" x2="209.7" y2="848" stroke="#eaebeb" stroke-width="4"/>
<line x1="122.21" y1="827.6" x2="122.21" y2="1269.2" stroke="#eaebeb" stroke-width="4"/>
<line x1="176.89" y1="827.6" x2="176.89" y2="1269.2" stroke="#eaebeb" stroke-width="4"/>
<rect x="108.54" y="878.25" width="27.34" height="370.9" fill="#873439"/>
<line x1="122.21" y1="854.25" x2="122.21" y2="903" stroke="#0a0a0a" stroke-width="4.3"/>
<line x1="116.74" y1="903" x2="127.68" y2="903" stroke="#0a0a0a" stroke-width="4.3"/>
<line x1="116.74" y1="854.25" x2="127.68" y2="854.25" stroke="#0a0a0a" stroke-width="4.3"/>
<rect x="163.22" y="868" width="27.34" height="381.15" fill="#873439"/>
<line x1="176.89" y1="857.25" x2="176.89" y2="878" stroke="#0a0a0a" stroke-width="4.3"/>
<line x1="171.42" y1="878" x2="182.36" y2="878" stroke="#0a0a0a" stroke-width="4.3"/>
<line x1="171.42" y1="857.25" x2="182.36" y2="857.25" stroke="#0a0a0a" stroke-width="4.3"/>
<rect x="90.55" y="828.75" width="118" height="439.3" fill="none" stroke="#333333" stroke-width="2.3"/>
<line x1="122.21" y1="1268.7" x2="122.21" y2="1273.8" stroke="#333333" stroke-width="4.2"/>
<text transform="translate(144.96 1277) rotate(-90) scale(1 1.035)" font-size="31.5" fill="#696b6f" text-anchor="end">2015</text>
<line x1="176.89" y1="1268.7" x2="176.89" y2="1273.8" stroke="#333333" stroke-width="4.2"/>
<text transform="translate(199.64 1277) rotate(-90) scale(1 1.035)" font-size="31.5" fill="#696b6f" text-anchor="end">2018</text>
</g>
<g class="facet">
<text transform="translate(278.22 815.25) scale(1 1.035)" font-size="23.6" fill="#1a1a1a" text-anchor="middle">Gaza</text>
<rect x="218.07" y="827.6" width="120.3" height="441.6" fill="#ffffff"/>
<line x1="218.07" y1="1199.01" x2="338.37" y2="1199.01" stroke="#eaebeb" stroke-width="2"/>
<line x1="218.07" y1="1098.72" x2="338.37" y2="1098.72" stroke="#eaebeb" stroke-width="2"/>
<line x1="218.07" y1="998.43" x2="338.37" y2="998.43" stroke="#eaebeb" stroke-width="2"/>
<line x1="218.07" y1="898.14" x2="338.37" y2="898.14" stroke="#eaebeb" stroke-width="2"/>
<line x1="218.07" y1="1249.15" x2="338.37" y2="1249.15" stroke="#eaebeb" stroke-width="4"/>
<line x1="218.07" y1="1148.86" x2="338.37" y2="1148.86" stroke="#eaebeb" stroke-width="4"/>
<line x1="218.07" y1="1048.58" x2="338.37" y2="1048.58" stroke="#eaebeb" stroke-width="4"/>
<line x1="218.07" y1="948.29" x2="338.37" y2="948.29" stroke="#eaebeb" stroke-width="4"/>
<line x1="218.07" y1="848" x2="338.37" y2="848" stroke="#eaebeb" stroke-width="4"/>
<line x1="250.88" y1="827.6" x2="250.88" y2="1269.2" stroke="#eaebeb" stroke-width="4"/>
<line x1="305.56" y1="827.6" x2="305.56" y2="1269.2" stroke="#eaebeb" stroke-width="4"/>
<rect x="237.21" y="890" width="27.34" height="359.15" fill="#873439"/>
<line x1="250.88" y1="859" x2="250.88" y2="920.75" stroke="#0a0a0a" stroke-width="4.3"/>
<line x1="245.41" y1="920.75" x2="256.35" y2="920.75" stroke="#0a0a0a" stroke-width="4.3"/>
<line x1="245.41" y1="859" x2="256.35" y2="859" stroke="#0a0a0a" stroke-width="4.3"/>
<rect x="291.89" y="848" width="27.34" height="401.15" fill="#873439"/>
<line x1="300.09" y1="848" x2="311.03" y2="848" stroke="#0a0a0a" stroke-width="4.3"/>
<rect x="219.22" y="828.75" width="118" height="439.3" fill="none" stroke="#333333" stroke-width="2.3"/>
<line x1="250.88" y1="1268.7" x2="250.88" y2="1273.8" stroke="#333333" stroke-width="4.2"/>
<text transform="translate(273.63 1277) rotate(-90) scale(1 1.035)" font-size="31.5" fill="#696b6f" text-anchor="end">2015</text>
<line x1="305.56" y1="1268.7" x2="305.56" y2="1273.8" stroke="#333333" stroke-width="4.2"/>
<text transform="translate(328.31 1277) rotate(-90) scale(1 1.035)" font-size="31.5" fill="#696b6f" text-anchor="end">2018</text>
</g>
<g class="facet">
<text transform="translate(406.89 815.25) scale(1 1.035)" font-size="23.6" fill="#1a1a1a" text-anchor="middle">Inhambane</text>
<rect x="346.74" y="827.6" width="120.3" height="441.6" fill="#ffffff"/>
<line x1="346.74" y1="1199.01" x2="467.04" y2="1199.01" stroke="#eaebeb" stroke-width="2"/>
<line x1="346.74" y1="1098.72" x2="467.04" y2="1098.72" stroke="#eaebeb" stroke-width="2"/>
<line x1="346.74" y1="998.43" x2="467.04" y2="998.43" stroke="#eaebeb" stroke-width="2"/>
<line x1="346.74" y1="898.14" x2="467.04" y2="898.14" stroke="#eaebeb" stroke-width="2"/>
<line x1="346.74" y1="1249.15" x2="467.04" y2="1249.15" stroke="#eaebeb" stroke-width="4"/>
<line x1="346.74" y1="1148.86" x2="467.04" y2="1148.86" stroke="#eaebeb" stroke-width="4"/>
<line x1="346.74" y1="1048.58" x2="467.04" y2="1048.58" stroke="#eaebeb" stroke-width="4"/>
<line x1="346.74" y1="948.29" x2="467.04" y2="948.29" stroke="#eaebeb" stroke-width="4"/>
<line x1="346.74" y1="848" x2="467.04" y2="848" stroke="#eaebeb" stroke-width="4"/>
<line x1="379.55" y1="827.6" x2="379.55" y2="1269.2" stroke="#eaebeb" stroke-width="4"/>
<line x1="434.23" y1="827.6" x2="434.23" y2="1269.2" stroke="#eaebeb" stroke-width="4"/>
<rect x="420.56" y="867.25" width="27.34" height="381.9" fill="#873439"/>
<line x1="434.23" y1="856.5" x2="434.23" y2="877.75" stroke="#0a0a0a" stroke-width="4.3"/>
<line x1="428.76" y1="877.75" x2="439.7" y2="877.75" stroke="#0a0a0a" stroke-width="4.3"/>
<line x1="428.76" y1="856.5" x2="439.7" y2="856.5" stroke="#0a0a0a" stroke-width="4.3"/>
<rect x="347.89" y="828.75" width="118" height="439.3" fill="none" stroke="#333333" stroke-width="2.3"/>
<line x1="434.23" y1="1268.7" x2="434.23" y2="1273.8" stroke="#333333" stroke-width="4.2"/>
<text transform="translate(456.98 1277) rotate(-90) scale(1 1.035)" font-size="31.5" fill="#696b6f" text-anchor="end">2018</text>
</g>
<g class="facet">
<text transform="translate(535.56 815.25) scale(1 1.035)" font-size="23.6" fill="#1a1a1a" text-anchor="middle">Sofala</text>
<rect x="475.41" y="827.6" width="120.3" height="441.6" fill="#ffffff"/>
<line x1="475.41" y1="1199.01" x2="595.71" y2="1199.01" stroke="#eaebeb" stroke-width="2"/>
<line x1="475.41" y1="1098.72" x2="595.71" y2="1098.72" stroke="#eaebeb" stroke-width="2"/>
<line x1="475.41" y1="998.43" x2="595.71" y2="998.43" stroke="#eaebeb" stroke-width="2"/>
<line x1="475.41" y1="898.14" x2="595.71" y2="898.14" stroke="#eaebeb" stroke-width="2"/>
<line x1="475.41" y1="1249.15" x2="595.71" y2="1249.15" stroke="#eaebeb" stroke-width="4"/>
<line x1="475.41" y1="1148.86" x2="595.71" y2="1148.86" stroke="#eaebeb" stroke-width="4"/>
<line x1="475.41" y1="1048.58" x2="595.71" y2="1048.58" stroke="#eaebeb" stroke-width="4"/>
<line x1="475.41" y1="948.29" x2="595.71" y2="948.29" stroke="#eaebeb" stroke-width="4"/>
<line x1="475.41" y1="848" x2="595.71" y2="848" stroke="#eaebeb" stroke-width="4"/>
<line x1="508.22" y1="827.6" x2="508.22" y2="1269.2" stroke="#eaebeb" stroke-width="4"/>
<line x1="562.9" y1="827.6" x2="562.9" y2="1269.2" stroke="#eaebeb" stroke-width="4"/>
<rect x="494.55" y="911.25" width="27.34" height="337.9" fill="#873439"/>
<line x1="508.22" y1="861" x2="508.22" y2="962" stroke="#0a0a0a" stroke-width="4.3"/>
<line x1="502.75" y1="962" x2="513.69" y2="962" stroke="#0a0a0a" stroke-width="4.3"/>
<line x1="502.75" y1="861" x2="513.69" y2="861" stroke="#0a0a0a" stroke-width="4.3"/>
<rect x="476.56" y="828.75" width="118" height="439.3" fill="none" stroke="#333333" stroke-width="2.3"/>
<line x1="508.22" y1="1268.7" x2="508.22" y2="1273.8" stroke="#333333" stroke-width="4.2"/>
<text transform="translate(530.97 1277) rotate(-90) scale(1 1.035)" font-size="31.5" fill="#696b6f" text-anchor="end">2015</text>
</g>
<g class="facet">
<text transform="translate(664.23 815.25) scale(1 1.035)" font-size="23.6" fill="#1a1a1a" text-anchor="middle">Tete</text>
<rect x="604.08" y="827.6" width="120.3" height="441.6" fill="#ffffff"/>
<line x1="604.08" y1="1199.01" x2="724.38" y2="1199.01" stroke="#eaebeb" stroke-width="2"/>
<line x1="604.08" y1="1098.72" x2="724.38" y2="1098.72" stroke="#eaebeb" stroke-width="2"/>
<line x1="604.08" y1="998.43" x2="724.38" y2="998.43" stroke="#eaebeb" stroke-width="2"/>
<line x1="604.08" y1="898.14" x2="724.38" y2="898.14" stroke="#eaebeb" stroke-width="2"/>
<line x1="604.08" y1="1249.15" x2="724.38" y2="1249.15" stroke="#eaebeb" stroke-width="4"/>
<line x1="604.08" y1="1148.86" x2="724.38" y2="1148.86" stroke="#eaebeb" stroke-width="4"/>
<line x1="604.08" y1="1048.58" x2="724.38" y2="1048.58" stroke="#eaebeb" stroke-width="4"/>
<line x1="604.08" y1="948.29" x2="724.38" y2="948.29" stroke="#eaebeb" stroke-width="4"/>
<line x1="604.08" y1="848" x2="724.38" y2="848" stroke="#eaebeb" stroke-width="4"/>
<line x1="636.89" y1="827.6" x2="636.89" y2="1269.2" stroke="#eaebeb" stroke-width="4"/>
<line x1="691.57" y1="827.6" x2="691.57" y2="1269.2" stroke="#eaebeb" stroke-width="4"/>
<rect x="623.22" y="881" width="27.34" height="368.15" fill="#873439"/>
<line x1="636.89" y1="848.5" x2="636.89" y2="912.75" stroke="#0a0a0a" stroke-width="4.3"/>
<line x1="631.42" y1="912.75" x2="642.36" y2="912.75" stroke="#0a0a0a" stroke-width="4.3"/>
<line x1="631.42" y1="848.5" x2="642.36" y2="848.5" stroke="#0a0a0a" stroke-width="4.3"/>
<rect x="677.9" y="897" width="27.34" height="352.15" fill="#873439"/>
<line x1="691.57" y1="864.75" x2="691.57" y2="928.75" stroke="#0a0a0a" stroke-width="4.3"/>
<line x1="686.1" y1="928.75" x2="697.04" y2="928.75" stroke="#0a0a0a" stroke-width="4.3"/>
<line x1="686.1" y1="864.75" x2="697.04" y2="864.75" stroke="#0a0a0a" stroke-width="4.3"/>
<rect x="605.23" y="828.75" width="118" height="439.3" fill="none" stroke="#333333" stroke-width="2.3"/>
<line x1="636.89" y1="1268.7" x2="636.89" y2="1273.8" stroke="#333333" stroke-width="4.2"/>
<text transform="translate(659.64 1277) rotate(-90) scale(1 1.035)" font-size="31.5" fill="#696b6f" text-anchor="end">2015</text>
<line x1="691.57" y1="1268.7" x2="691.57" y2="1273.8" stroke="#333333" stroke-width="4.2"/>
<text transform="translate(714.32 1277) rotate(-90) scale(1 1.035)" font-size="31.5" fill="#696b6f" text-anchor="end">2018</text>
</g>
<g class="facet">
<text transform="translate(792.9 815.25) scale(1 1.035)" font-size="23.6" fill="#1a1a1a" text-anchor="middle">Zambezia</text>
<rect x="732.75" y="827.6" width="120.3" height="441.6" fill="#ffffff"/>
<line x1="732.75" y1="1199.01" x2="853.05" y2="1199.01" stroke="#eaebeb" stroke-width="2"/>
<line x1="732.75" y1="1098.72" x2="853.05" y2="1098.72" stroke="#eaebeb" stroke-width="2"/>
<line x1="732.75" y1="998.43" x2="853.05" y2="998.43" stroke="#eaebeb" stroke-width="2"/>
<line x1="732.75" y1="898.14" x2="853.05" y2="898.14" stroke="#eaebeb" stroke-width="2"/>
<line x1="732.75" y1="1249.15" x2="853.05" y2="1249.15" stroke="#eaebeb" stroke-width="4"/>
<line x1="732.75" y1="1148.86" x2="853.05" y2="1148.86" stroke="#eaebeb" stroke-width="4"/>
<line x1="732.75" y1="1048.58" x2="853.05" y2="1048.58" stroke="#eaebeb" stroke-width="4"/>
<line x1="732.75" y1="948.29" x2="853.05" y2="948.29" stroke="#eaebeb" stroke-width="4"/>
<line x1="732.75" y1="848" x2="853.05" y2="848" stroke="#eaebeb" stroke-width="4"/>
<line x1="765.56" y1="827.6" x2="765.56" y2="1269.2" stroke="#eaebeb" stroke-width="4"/>
<line x1="820.24" y1="827.6" x2="820.24" y2="1269.2" stroke="#eaebeb" stroke-width="4"/>
<rect x="806.57" y="943" width="27.34" height="306.15" fill="#873439"/>
<line x1="820.24" y1="913.5" x2="820.24" y2="972.25" stroke="#0a0a0a" stroke-width="4.3"/>
<line x1="814.77" y1="972.25" x2="825.71" y2="972.25" stroke="#0a0a0a" stroke-width="4.3"/>
<line x1="814.77" y1="913.5" x2="825.71" y2="913.5" stroke="#0a0a0a" stroke-width="4.3"/>
<rect x="733.9" y="828.75" width="118" height="439.3" fill="none" stroke="#333333" stroke-width="2.3"/>
<line x1="820.24" y1="1268.7" x2="820.24" y2="1273.8" stroke="#333333" stroke-width="4.2"/>
<text transform="translate(842.99 1277) rotate(-90) scale(1 1.035)" font-size="31.5" fill="#696b6f" text-anchor="end">2018</text>
</g>
<g class="facet">
<text transform="translate(921.57 813.25) scale(1 1.035)" font-size="23.6" fill="#1a1a1a" text-anchor="middle">C.Delgado</text>
<rect x="861.42" y="827.6" width="120.3" height="441.6" fill="#ffffff"/>
<line x1="861.42" y1="1199.01" x2="981.72" y2="1199.01" stroke="#eaebeb" stroke-width="2"/>
<line x1="861.42" y1="1098.72" x2="981.72" y2="1098.72" stroke="#eaebeb" stroke-width="2"/>
<line x1="861.42" y1="998.43" x2="981.72" y2="998.43" stroke="#eaebeb" stroke-width="2"/>
<line x1="861.42" y1="898.14" x2="981.72" y2="898.14" stroke="#eaebeb" stroke-width="2"/>
<line x1="861.42" y1="1249.15" x2="981.72" y2="1249.15" stroke="#eaebeb" stroke-width="4"/>
<line x1="861.42" y1="1148.86" x2="981.72" y2="1148.86" stroke="#eaebeb" stroke-width="4"/>
<line x1="861.42" y1="1048.58" x2="981.72" y2="1048.58" stroke="#eaebeb" stroke-width="4"/>
<line x1="861.42" y1="948.29" x2="981.72" y2="948.29" stroke="#eaebeb" stroke-width="4"/>
<line x1="861.42" y1="848" x2="981.72" y2="848" stroke="#eaebeb" stroke-width="4"/>
<line x1="894.23" y1="827.6" x2="894.23" y2="1269.2" stroke="#eaebeb" stroke-width="4"/>
<line x1="948.91" y1="827.6" x2="948.91" y2="1269.2" stroke="#eaebeb" stroke-width="4"/>
<rect x="880.56" y="1088.4" width="27.34" height="160.75" fill="#873439"/>
<line x1="894.23" y1="1010.25" x2="894.23" y2="1167.4" stroke="#0a0a0a" stroke-width="4.3"/>
<line x1="888.76" y1="1167.4" x2="899.7" y2="1167.4" stroke="#0a0a0a" stroke-width="4.3"/>
<line x1="888.76" y1="1010.25" x2="899.7" y2="1010.25" stroke="#0a0a0a" stroke-width="4.3"/>
<rect x="935.24" y="962" width="27.34" height="287.15" fill="#873439"/>
<line x1="948.91" y1="927.25" x2="948.91" y2="997" stroke="#0a0a0a" stroke-width="4.3"/>
<line x1="943.44" y1="997" x2="954.38" y2="997" stroke="#0a0a0a" stroke-width="4.3"/>
<line x1="943.44" y1="927.25" x2="954.38" y2="927.25" stroke="#0a0a0a" stroke-width="4.3"/>
<rect x="862.57" y="828.75" width="118" height="439.3" fill="none" stroke="#333333" stroke-width="2.3"/>
<line x1="894.23" y1="1268.7" x2="894.23" y2="1273.8" stroke="#333333" stroke-width="4.2"/>
<text transform="translate(916.98 1277) rotate(-90) scale(1 1.035)" font-size="31.5" fill="#696b6f" text-anchor="end">2015</text>
<line x1="948.91" y1="1268.7" x2="948.91" y2="1273.8" stroke="#333333" stroke-width="4.2"/>
<text transform="translate(971.66 1277) rotate(-90) scale(1 1.035)" font-size="31.5" fill="#696b6f" text-anchor="end">2018</text>
</g>
</g>
<g class="panel" id="panel-d">
<text transform="translate(1057.5 732.1)" font-size="47" fill="#000" text-anchor="start">d</text>
<text transform="translate(1604.4 765.8) scale(1 1.035)" font-size="28.35" fill="#000" text-anchor="middle"><tspan font-style="italic">pfdhps</tspan> S436ACFH/A437G/K540E</text>
<text transform="translate(1089.1 1008.92) rotate(-90) scale(1 1.035)" font-size="28.4" fill="#000" text-anchor="middle">Proportion</text>
<text transform="translate(1152.6 1183.7) scale(1 1.035)" font-size="27.9" fill="#696b6f" text-anchor="end">0.00</text>
<line x1="1155.7" y1="1173.7" x2="1160.8" y2="1173.7" stroke="#333333" stroke-width="4.2"/>
<text transform="translate(1152.6 1101.3) scale(1 1.035)" font-size="27.9" fill="#696b6f" text-anchor="end">0.25</text>
<line x1="1155.7" y1="1091.3" x2="1160.8" y2="1091.3" stroke="#333333" stroke-width="4.2"/>
<text transform="translate(1152.6 1018.9) scale(1 1.035)" font-size="27.9" fill="#696b6f" text-anchor="end">0.50</text>
<line x1="1155.7" y1="1008.9" x2="1160.8" y2="1008.9" stroke="#333333" stroke-width="4.2"/>
<text transform="translate(1152.6 936.5) scale(1 1.035)" font-size="27.9" fill="#696b6f" text-anchor="end">0.75</text>
<line x1="1155.7" y1="926.5" x2="1160.8" y2="926.5" stroke="#333333" stroke-width="4.2"/>
<text transform="translate(1152.6 854.1) scale(1 1.035)" font-size="27.9" fill="#696b6f" text-anchor="end">1.00</text>
<line x1="1155.7" y1="844.1" x2="1160.8" y2="844.1" stroke="#333333" stroke-width="4.2"/>
<g class="facet">
<text transform="translate(1220.4 813.25) scale(1 1.035)" font-size="23.6" fill="#1a1a1a" text-anchor="middle">Maputo</text>
<rect x="1160.3" y="827.75" width="120.2" height="362.35" fill="#ffffff"/>
<line x1="1160.3" y1="1132.5" x2="1280.5" y2="1132.5" stroke="#eaebeb" stroke-width="2"/>
<line x1="1160.3" y1="1050.1" x2="1280.5" y2="1050.1" stroke="#eaebeb" stroke-width="2"/>
<line x1="1160.3" y1="967.7" x2="1280.5" y2="967.7" stroke="#eaebeb" stroke-width="2"/>
<line x1="1160.3" y1="885.3" x2="1280.5" y2="885.3" stroke="#eaebeb" stroke-width="2"/>
<line x1="1160.3" y1="1173.7" x2="1280.5" y2="1173.7" stroke="#eaebeb" stroke-width="4"/>
<line x1="1160.3" y1="1091.3" x2="1280.5" y2="1091.3" stroke="#eaebeb" stroke-width="4"/>
<line x1="1160.3" y1="1008.9" x2="1280.5" y2="1008.9" stroke="#eaebeb" stroke-width="4"/>
<line x1="1160.3" y1="926.5" x2="1280.5" y2="926.5" stroke="#eaebeb" stroke-width="4"/>
<line x1="1160.3" y1="844.1" x2="1280.5" y2="844.1" stroke="#eaebeb" stroke-width="4"/>
<line x1="1193.08" y1="827.75" x2="1193.08" y2="1190.1" stroke="#eaebeb" stroke-width="4"/>
<line x1="1247.72" y1="827.75" x2="1247.72" y2="1190.1" stroke="#eaebeb" stroke-width="4"/>
<rect x="1176.69" y="844" width="32.78" height="329.6" fill="#6e8fcb"/>
<rect x="1176.69" y="864" width="32.78" height="309.6" fill="#5b4c9f"/>
<rect x="1231.33" y="844" width="32.78" height="329.6" fill="#a0a06e"/>
<rect x="1231.33" y="844.6" width="32.78" height="329" fill="#6e8fcb"/>
<rect x="1231.33" y="854" width="32.78" height="319.6" fill="#5b4c9f"/>
<rect x="1231.33" y="1172.8" width="32.78" height="0.8" fill="#3a6a38"/>
<rect x="1161.45" y="828.9" width="117.9" height="360.05" fill="none" stroke="#333333" stroke-width="2.3"/>
<line x1="1193.08" y1="1189.6" x2="1193.08" y2="1194.7" stroke="#333333" stroke-width="4.2"/>
<text transform="translate(1213.28 1197.9) rotate(-90) scale(1 1.035)" font-size="28.3" fill="#696b6f" text-anchor="end">2015</text>
<line x1="1247.72" y1="1189.6" x2="1247.72" y2="1194.7" stroke="#333333" stroke-width="4.2"/>
<text transform="translate(1267.92 1197.9) rotate(-90) scale(1 1.035)" font-size="28.3" fill="#696b6f" text-anchor="end">2018</text>
</g>
<g class="facet">
<text transform="translate(1348.4 815.25) scale(1 1.035)" font-size="23.6" fill="#1a1a1a" text-anchor="middle">Gaza</text>
<rect x="1288.3" y="827.75" width="120.2" height="362.35" fill="#ffffff"/>
<line x1="1288.3" y1="1132.5" x2="1408.5" y2="1132.5" stroke="#eaebeb" stroke-width="2"/>
<line x1="1288.3" y1="1050.1" x2="1408.5" y2="1050.1" stroke="#eaebeb" stroke-width="2"/>
<line x1="1288.3" y1="967.7" x2="1408.5" y2="967.7" stroke="#eaebeb" stroke-width="2"/>
<line x1="1288.3" y1="885.3" x2="1408.5" y2="885.3" stroke="#eaebeb" stroke-width="2"/>
<line x1="1288.3" y1="1173.7" x2="1408.5" y2="1173.7" stroke="#eaebeb" stroke-width="4"/>
<line x1="1288.3" y1="1091.3" x2="1408.5" y2="1091.3" stroke="#eaebeb" stroke-width="4"/>
<line x1="1288.3" y1="1008.9" x2="1408.5" y2="1008.9" stroke="#eaebeb" stroke-width="4"/>
<line x1="1288.3" y1="926.5" x2="1408.5" y2="926.5" stroke="#eaebeb" stroke-width="4"/>
<line x1="1288.3" y1="844.1" x2="1408.5" y2="844.1" stroke="#eaebeb" stroke-width="4"/>
<line x1="1321.08" y1="827.75" x2="1321.08" y2="1190.1" stroke="#eaebeb" stroke-width="4"/>
<line x1="1375.72" y1="827.75" x2="1375.72" y2="1190.1" stroke="#eaebeb" stroke-width="4"/>
<rect x="1304.69" y="844" width="32.78" height="329.6" fill="#6e8fcb"/>
<rect x="1304.69" y="863.75" width="32.78" height="309.85" fill="#5b4c9f"/>
<rect x="1304.69" y="1168.6" width="32.78" height="5" fill="#3a6a38"/>
<rect x="1359.33" y="844" width="32.78" height="329.6" fill="#5b4c9f"/>
<rect x="1289.45" y="828.9" width="117.9" height="360.05" fill="none" stroke="#333333" stroke-width="2.3"/>
<line x1="1321.08" y1="1189.6" x2="1321.08" y2="1194.7" stroke="#333333" stroke-width="4.2"/>
<text transform="translate(1341.28 1197.9) rotate(-90) scale(1 1.035)" font-size="28.3" fill="#696b6f" text-anchor="end">2015</text>
<line x1="1375.72" y1="1189.6" x2="1375.72" y2="1194.7" stroke="#333333" stroke-width="4.2"/>
<text transform="translate(1395.92 1197.9) rotate(-90) scale(1 1.035)" font-size="28.3" fill="#696b6f" text-anchor="end">2018</text>
</g>
<g class="facet">
<text transform="translate(1476.4 815.25) scale(1 1.035)" font-size="23.6" fill="#1a1a1a" text-anchor="middle">Inhambane</text>
<rect x="1416.3" y="827.75" width="120.2" height="362.35" fill="#ffffff"/>
<line x1="1416.3" y1="1132.5" x2="1536.5" y2="1132.5" stroke="#eaebeb" stroke-width="2"/>
<line x1="1416.3" y1="1050.1" x2="1536.5" y2="1050.1" stroke="#eaebeb" stroke-width="2"/>
<line x1="1416.3" y1="967.7" x2="1536.5" y2="967.7" stroke="#eaebeb" stroke-width="2"/>
<line x1="1416.3" y1="885.3" x2="1536.5" y2="885.3" stroke="#eaebeb" stroke-width="2"/>
<line x1="1416.3" y1="1173.7" x2="1536.5" y2="1173.7" stroke="#eaebeb" stroke-width="4"/>
<line x1="1416.3" y1="1091.3" x2="1536.5" y2="1091.3" stroke="#eaebeb" stroke-width="4"/>
<line x1="1416.3" y1="1008.9" x2="1536.5" y2="1008.9" stroke="#eaebeb" stroke-width="4"/>
<line x1="1416.3" y1="926.5" x2="1536.5" y2="926.5" stroke="#eaebeb" stroke-width="4"/>
<line x1="1416.3" y1="844.1" x2="1536.5" y2="844.1" stroke="#eaebeb" stroke-width="4"/>
<line x1="1449.08" y1="827.75" x2="1449.08" y2="1190.1" stroke="#eaebeb" stroke-width="4"/>
<line x1="1503.72" y1="827.75" x2="1503.72" y2="1190.1" stroke="#eaebeb" stroke-width="4"/>
<rect x="1487.33" y="844" width="32.78" height="329.6" fill="#6e8fcb"/>
<rect x="1487.33" y="851.75" width="32.78" height="321.85" fill="#5b4c9f"/>
<rect x="1487.33" y="1172.8" width="32.78" height="0.8" fill="#3a6a38"/>
<rect x="1417.45" y="828.9" width="117.9" height="360.05" fill="none" stroke="#333333" stroke-width="2.3"/>
<line x1="1503.72" y1="1189.6" x2="1503.72" y2="1194.7" stroke="#333333" stroke-width="4.2"/>
<text transform="translate(1523.92 1197.9) rotate(-90) scale(1 1.035)" font-size="28.3" fill="#696b6f" text-anchor="end">2018</text>
</g>
<g class="facet">
<text transform="translate(1604.4 815.25) scale(1 1.035)" font-size="23.6" fill="#1a1a1a" text-anchor="middle">Sofala</text>
<rect x="1544.3" y="827.75" width="120.2" height="362.35" fill="#ffffff"/>
<line x1="1544.3" y1="1132.5" x2="1664.5" y2="1132.5" stroke="#eaebeb" stroke-width="2"/>
<line x1="1544.3" y1="1050.1" x2="1664.5" y2="1050.1" stroke="#eaebeb" stroke-width="2"/>
<line x1="1544.3" y1="967.7" x2="1664.5" y2="967.7" stroke="#eaebeb" stroke-width="2"/>
<line x1="1544.3" y1="885.3" x2="1664.5" y2="885.3" stroke="#eaebeb" stroke-width="2"/>
<line x1="1544.3" y1="1173.7" x2="1664.5" y2="1173.7" stroke="#eaebeb" stroke-width="4"/>
<line x1="1544.3" y1="1091.3" x2="1664.5" y2="1091.3" stroke="#eaebeb" stroke-width="4"/>
<line x1="1544.3" y1="1008.9" x2="1664.5" y2="1008.9" stroke="#eaebeb" stroke-width="4"/>
<line x1="1544.3" y1="926.5" x2="1664.5" y2="926.5" stroke="#eaebeb" stroke-width="4"/>
<line x1="1544.3" y1="844.1" x2="1664.5" y2="844.1" stroke="#eaebeb" stroke-width="4"/>
<line x1="1577.08" y1="827.75" x2="1577.08" y2="1190.1" stroke="#eaebeb" stroke-width="4"/>
<line x1="1631.72" y1="827.75" x2="1631.72" y2="1190.1" stroke="#eaebeb" stroke-width="4"/>
<rect x="1560.69" y="844" width="32.78" height="329.6" fill="#6e8fcb"/>
<rect x="1560.69" y="876.5" width="32.78" height="297.1" fill="#5b4c9f"/>
<rect x="1560.69" y="1165.3" width="32.78" height="8.3" fill="#3a6a38"/>
<rect x="1545.45" y="828.9" width="117.9" height="360.05" fill="none" stroke="#333333" stroke-width="2.3"/>
<line x1="1577.08" y1="1189.6" x2="1577.08" y2="1194.7" stroke="#333333" stroke-width="4.2"/>
<text transform="translate(1597.28 1197.9) rotate(-90) scale(1 1.035)" font-size="28.3" fill="#696b6f" text-anchor="end">2015</text>
</g>
<g class="facet">
<text transform="translate(1732.4 815.25) scale(1 1.035)" font-size="23.6" fill="#1a1a1a" text-anchor="middle">Tete</text>
<rect x="1672.3" y="827.75" width="120.2" height="362.35" fill="#ffffff"/>
<line x1="1672.3" y1="1132.5" x2="1792.5" y2="1132.5" stroke="#eaebeb" stroke-width="2"/>
<line x1="1672.3" y1="1050.1" x2="1792.5" y2="1050.1" stroke="#eaebeb" stroke-width="2"/>
<line x1="1672.3" y1="967.7" x2="1792.5" y2="967.7" stroke="#eaebeb" stroke-width="2"/>
<line x1="1672.3" y1="885.3" x2="1792.5" y2="885.3" stroke="#eaebeb" stroke-width="2"/>
<line x1="1672.3" y1="1173.7" x2="1792.5" y2="1173.7" stroke="#eaebeb" stroke-width="4"/>
<line x1="1672.3" y1="1091.3" x2="1792.5" y2="1091.3" stroke="#eaebeb" stroke-width="4"/>
<line x1="1672.3" y1="1008.9" x2="1792.5" y2="1008.9" stroke="#eaebeb" stroke-width="4"/>
<line x1="1672.3" y1="926.5" x2="1792.5" y2="926.5" stroke="#eaebeb" stroke-width="4"/>
<line x1="1672.3" y1="844.1" x2="1792.5" y2="844.1" stroke="#eaebeb" stroke-width="4"/>
<line x1="1705.08" y1="827.75" x2="1705.08" y2="1190.1" stroke="#eaebeb" stroke-width="4"/>
<line x1="1759.72" y1="827.75" x2="1759.72" y2="1190.1" stroke="#eaebeb" stroke-width="4"/>
<rect x="1688.69" y="844" width="32.78" height="329.6" fill="#6e8fcb"/>
<rect x="1688.69" y="870.75" width="32.78" height="302.85" fill="#5b4c9f"/>
<rect x="1743.33" y="844" width="32.78" height="329.6" fill="#7d1419"/>
<rect x="1743.33" y="848.5" width="32.78" height="325.1" fill="#e06a28"/>
<rect x="1743.33" y="853" width="32.78" height="320.6" fill="#e0659a"/>
<rect x="1743.33" y="857.5" width="32.78" height="316.1" fill="#6e8fcb"/>
<rect x="1743.33" y="870.75" width="32.78" height="302.85" fill="#5b4c9f"/>
<rect x="1673.45" y="828.9" width="117.9" height="360.05" fill="none" stroke="#333333" stroke-width="2.3"/>
<line x1="1705.08" y1="1189.6" x2="1705.08" y2="1194.7" stroke="#333333" stroke-width="4.2"/>
<text transform="translate(1725.28 1197.9) rotate(-90) scale(1 1.035)" font-size="28.3" fill="#696b6f" text-anchor="end">2015</text>
<line x1="1759.72" y1="1189.6" x2="1759.72" y2="1194.7" stroke="#333333" stroke-width="4.2"/>
<text transform="translate(1779.92 1197.9) rotate(-90) scale(1 1.035)" font-size="28.3" fill="#696b6f" text-anchor="end">2018</text>
</g>
<g class="facet">
<text transform="translate(1860.4 815.25) scale(1 1.035)" font-size="23.6" fill="#1a1a1a" text-anchor="middle">Zambezia</text>
<rect x="1800.3" y="827.75" width="120.2" height="362.35" fill="#ffffff"/>
<line x1="1800.3" y1="1132.5" x2="1920.5" y2="1132.5" stroke="#eaebeb" stroke-width="2"/>
<line x1="1800.3" y1="1050.1" x2="1920.5" y2="1050.1" stroke="#eaebeb" stroke-width="2"/>
<line x1="1800.3" y1="967.7" x2="1920.5" y2="967.7" stroke="#eaebeb" stroke-width="2"/>
<line x1="1800.3" y1="885.3" x2="1920.5" y2="885.3" stroke="#eaebeb" stroke-width="2"/>
<line x1="1800.3" y1="1173.7" x2="1920.5" y2="1173.7" stroke="#eaebeb" stroke-width="4"/>
<line x1="1800.3" y1="1091.3" x2="1920.5" y2="1091.3" stroke="#eaebeb" stroke-width="4"/>
<line x1="1800.3" y1="1008.9" x2="1920.5" y2="1008.9" stroke="#eaebeb" stroke-width="4"/>
<line x1="1800.3" y1="926.5" x2="1920.5" y2="926.5" stroke="#eaebeb" stroke-width="4"/>
<line x1="1800.3" y1="844.1" x2="1920.5" y2="844.1" stroke="#eaebeb" stroke-width="4"/>
<line x1="1833.08" y1="827.75" x2="1833.08" y2="1190.1" stroke="#eaebeb" stroke-width="4"/>
<line x1="1887.72" y1="827.75" x2="1887.72" y2="1190.1" stroke="#eaebeb" stroke-width="4"/>
<rect x="1871.33" y="844" width="32.78" height="329.6" fill="#7d1419"/>
<rect x="1871.33" y="848" width="32.78" height="325.6" fill="#e06a28"/>
<rect x="1871.33" y="852" width="32.78" height="321.6" fill="#6e8fcb"/>
<rect x="1871.33" y="904" width="32.78" height="269.6" fill="#5b4c9f"/>
<rect x="1801.45" y="828.9" width="117.9" height="360.05" fill="none" stroke="#333333" stroke-width="2.3"/>
<line x1="1887.72" y1="1189.6" x2="1887.72" y2="1194.7" stroke="#333333" stroke-width="4.2"/>
<text transform="translate(1907.92 1197.9) rotate(-90) scale(1 1.035)" font-size="28.3" fill="#696b6f" text-anchor="end">2018</text>
</g>
<g class="facet">
<text transform="translate(1988.4 813.25) scale(1 1.035)" font-size="23.6" fill="#1a1a1a" text-anchor="middle">C.Delgado</text>
<rect x="1928.3" y="827.75" width="120.2" height="362.35" fill="#ffffff"/>
<line x1="1928.3" y1="1132.5" x2="2048.5" y2="1132.5" stroke="#eaebeb" stroke-width="2"/>
<line x1="1928.3" y1="1050.1" x2="2048.5" y2="1050.1" stroke="#eaebeb" stroke-width="2"/>
<line x1="1928.3" y1="967.7" x2="2048.5" y2="967.7" stroke="#eaebeb" stroke-width="2"/>
<line x1="1928.3" y1="885.3" x2="2048.5" y2="885.3" stroke="#eaebeb" stroke-width="2"/>
<line x1="1928.3" y1="1173.7" x2="2048.5" y2="1173.7" stroke="#eaebeb" stroke-width="4"/>
<line x1="1928.3" y1="1091.3" x2="2048.5" y2="1091.3" stroke="#eaebeb" stroke-width="4"/>
<line x1="1928.3" y1="1008.9" x2="2048.5" y2="1008.9" stroke="#eaebeb" stroke-width="4"/>
<line x1="1928.3" y1="926.5" x2="2048.5" y2="926.5" stroke="#eaebeb" stroke-width="4"/>
<line x1="1928.3" y1="844.1" x2="2048.5" y2="844.1" stroke="#eaebeb" stroke-width="4"/>
<line x1="1961.08" y1="827.75" x2="1961.08" y2="1190.1" stroke="#eaebeb" stroke-width="4"/>
<line x1="2015.72" y1="827.75" x2="2015.72" y2="1190.1" stroke="#eaebeb" stroke-width="4"/>
<rect x="1944.69" y="844" width="32.78" height="329.6" fill="#7d1419"/>
<rect x="1944.69" y="893" width="32.78" height="280.6" fill="#dd1c26"/>
<rect x="1944.69" y="905" width="32.78" height="268.6" fill="#e06a28"/>
<rect x="1944.69" y="911.25" width="32.78" height="262.35" fill="#e0659a"/>
<rect x="1944.69" y="917.5" width="32.78" height="256.1" fill="#6e8fcb"/>
<rect x="1944.69" y="990.25" width="32.78" height="183.35" fill="#5b4c9f"/>
<rect x="1999.33" y="844" width="32.78" height="329.6" fill="#7d1419"/>
<rect x="1999.33" y="877.25" width="32.78" height="296.35" fill="#dd1c26"/>
<rect x="1999.33" y="884" width="32.78" height="289.6" fill="#e06a28"/>
<rect x="1999.33" y="893" width="32.78" height="280.6" fill="#e0659a"/>
<rect x="1999.33" y="899.5" width="32.78" height="274.1" fill="#6e8fcb"/>
<rect x="1999.33" y="930.5" width="32.78" height="243.1" fill="#5b4c9f"/>
<rect x="1999.33" y="1171.4" width="32.78" height="2.2" fill="#3a6a38"/>
<rect x="1929.45" y="828.9" width="117.9" height="360.05" fill="none" stroke="#333333" stroke-width="2.3"/>
<line x1="1961.08" y1="1189.6" x2="1961.08" y2="1194.7" stroke="#333333" stroke-width="4.2"/>
<text transform="translate(1981.28 1197.9) rotate(-90) scale(1 1.035)" font-size="28.3" fill="#696b6f" text-anchor="end">2015</text>
<line x1="2015.72" y1="1189.6" x2="2015.72" y2="1194.7" stroke="#333333" stroke-width="4.2"/>
<text transform="translate(2035.92 1197.9) rotate(-90) scale(1 1.035)" font-size="28.3" fill="#696b6f" text-anchor="end">2018</text>
</g>
</g>
<g class="legend">
<text transform="translate(1245 1353.7) scale(1 1.035)" font-size="31.3" fill="#000" text-anchor="start">dhps 436/437/540</text>
<rect x="1513.5" y="1316.1" width="25" height="24.7" fill="#7d1419"/>
<text transform="translate(1555.3 1338.7) scale(1 1.035)" font-size="28.3" fill="#000" text-anchor="start">AAK</text>
<rect x="1513.5" y="1343.2" width="25" height="24.7" fill="#a0a06e"/>
<text transform="translate(1555.3 1365.5) scale(1 1.035)" font-size="28.3" fill="#000" text-anchor="start">AGK</text>
<rect x="1630.2" y="1316.1" width="25" height="24.7" fill="#dd1c26"/>
<text transform="translate(1672 1338.7) scale(1 1.035)" font-size="28.3" fill="#000" text-anchor="start">CAK</text>
<rect x="1630.2" y="1343.2" width="25" height="24.7" fill="#e06a28"/>
<text transform="translate(1672 1365.5) scale(1 1.035)" font-size="28.3" fill="#000" text-anchor="start">FAK</text>
<rect x="1746.2" y="1316.1" width="25" height="24.7" fill="#e0659a"/>
<text transform="translate(1788 1338.7) scale(1 1.035)" font-size="28.3" fill="#000" text-anchor="start">HAK</text>
<rect x="1746.2" y="1343.2" width="25" height="24.7" fill="#6e8fcb"/>
<text transform="translate(1788 1365.5) scale(1 1.035)" font-size="28.3" fill="#000" text-anchor="start">SAK</text>
<rect x="1862" y="1316.1" width="25" height="24.7" fill="#5b4c9f"/>
<text transform="translate(1903.8 1338.7) scale(1 1.035)" font-size="28.3" fill="#000" text-anchor="start">SGE</text>
<rect x="1862" y="1343.2" width="25" height="24.7" fill="#3a6a38"/>
<text transform="translate(1903.8 1365.5) scale(1 1.035)" font-size="28.3" fill="#000" text-anchor="start">SGK</text>
</g>
</svg>
</body>
</html>
